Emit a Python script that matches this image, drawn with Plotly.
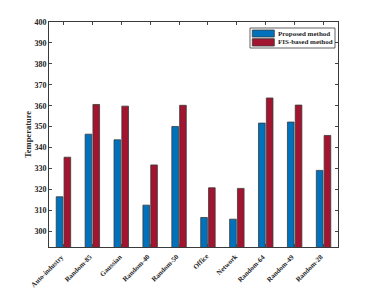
import plotly.graph_objects as go

categories = ["Auto-industry", "Random-85", "Gaussian", "Random-40", "Random-50",
              "Office", "Network", "Random-64", "Random-49", "Random-28"]
proposed = [316.5, 346.4, 343.7, 312.5, 350.1, 306.6, 305.8, 351.7, 352.2, 329.1]
fis_based = [335.4, 360.6, 359.8, 331.7, 360.2, 320.8, 320.5, 363.7, 360.3, 345.8]
series_names = ["Proposed method", "FIS-based method"]
series_colors = ["#0072BD", "#A2142F"]
y_ticks = list(range(300, 401, 10))

FAM = "Liberation Serif, Times New Roman, serif"
font_main = dict(family=FAM, size=8, color="#262626", weight="bold")
edge = dict(color="#3a3a3a", width=0.8)

fig = go.Figure()
for name, vals, col in zip(series_names, [proposed, fis_based], series_colors):
    fig.add_trace(go.Bar(x=categories, y=vals, name=name,
                         marker=dict(color=col, line=edge)))

# page has an 8px body margin: figure occupies (8,8)-(374,289)
OFF = 8
W, H = 374 - OFF, 289 - OFF
AX_L, AX_R, AX_T, AX_B = 49, 338, 22, 247   # target page coords of the axes box
L, R, T, B = AX_L - OFF, 374 - AX_R, AX_T - OFF, 289 - AX_B
pw, ph = AX_R - AX_L, AX_B - AX_T
def px(x): return (x - AX_L) / pw
def py(y): return (AX_B - y) / ph

shapes = [dict(type="rect", xref="paper", yref="paper",
               x0=px(250), x1=px(335), y0=py(48), y1=py(28),
               fillcolor="white", line=dict(color="#3a3a3a", width=0.8))]
annotations = []
rows = [(30, 37), (38.7, 46)]
for (y0, y1), name, col in zip(rows, series_names, series_colors):
    shapes.append(dict(type="rect", xref="paper", yref="paper",
                       x0=px(252.3), x1=px(274.3), y0=py(y1), y1=py(y0),
                       fillcolor=col, line=edge))
    annotations.append(dict(xref="paper", yref="paper", x=px(275.5), y=py((y0 + y1) / 2),
                            text=name, showarrow=False, xanchor="left", yanchor="middle",
                            font=dict(family=FAM, size=7, color="#262626", weight="bold")))

# rotated category labels
for cat in categories:
    annotations.append(dict(xref="x", yref="paper", x=cat, y=py(250), xshift=5,
                            text=cat, textangle=-45, showarrow=False,
                            xanchor="right", yanchor="top",
                            font=dict(family=FAM, size=7, color="#262626", weight="bold")))

fig.update_layout(
    width=W, height=H,
    margin=dict(l=L, r=R, t=T, b=B),
    paper_bgcolor="white", plot_bgcolor="white",
    barmode="group", bargap=0.46, bargroupgap=0.15,
    font=font_main,
    showlegend=False,
    shapes=shapes, annotations=annotations,
    xaxis=dict(range=[-0.5, 9.5], ticks="inside", ticklen=3, showticklabels=False,
               showline=True, linecolor="#3a3a3a", linewidth=1, mirror="allticks",
               showgrid=False, automargin=False),
    yaxis=dict(range=[292.5, 400], tickvals=y_ticks, ticks="inside", ticklen=3,
               showline=True, linecolor="#3a3a3a", linewidth=1, mirror="allticks",
               tickfont=font_main, showgrid=False, zeroline=False, automargin=False,
               title=dict(text="Temperature", font=dict(family=FAM, size=8.5,
                                                        color="#262626", weight="bold"),
                          standoff=1)),
)

fig.write_html("out.html")
